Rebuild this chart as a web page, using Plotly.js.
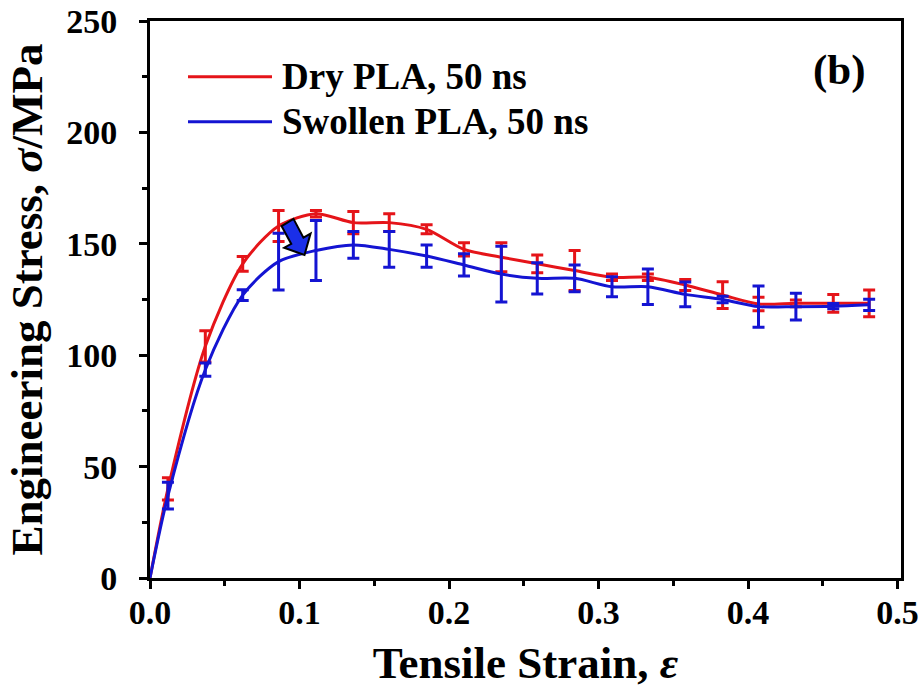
<!DOCTYPE html>
<html>
<head>
<meta charset="utf-8">
<script src="https://cdn.plot.ly/plotly-3.0.1.min.js"></script>
<style>html,body{margin:0;padding:0;background:#fff;}#chart{width:924px;height:700px;}</style>
</head>
<body>
<div id="chart"></div>
<script>
// ---- data ----
const strain = [0.012, 0.037, 0.062, 0.086, 0.111, 0.136, 0.160, 0.185, 0.210, 0.235,
                0.259, 0.284, 0.309, 0.333, 0.358, 0.383, 0.407, 0.432, 0.457, 0.481];
const dryStress = [40, 104, 141, 158, 163.5, 159.5, 159.5, 156.5, 147.5, 144,
                   141, 138, 135, 135, 131.5, 127, 123, 123.3, 123.3, 123.3];
const dryErr = [5, 7, 3.3, 7, 1.5, 5, 4, 2, 3, 6.5, 4, 9, 1.5, 1.5, 2.5, 6, 3, 1.5, 4, 6];
const swollenStress = [37, 93.5, 127, 142, 147, 149.5, 147.5, 144.5, 140.5, 136.4,
                       134.5, 134.5, 130.7, 130.7, 127.3, 125, 121.8, 121.8, 122, 122.6];
const swollenErr = [6, 3, 2.4, 12.7, 13.5, 6, 8, 5, 5, 12.5, 7, 6, 4.5, 8, 5.5, 1.5, 9.3, 6, 1.2, 2.5];
const originX = 0, originY = 0;
const seriesNames = ['Dry PLA, 50 ns', 'Swollen PLA, 50 ns'];
const xTicks = [0, 0.1, 0.2, 0.3, 0.4, 0.5];
const xTickText = ['0.0', '0.1', '0.2', '0.3', '0.4', '0.5'];
const yTicks = [0, 50, 100, 150, 200, 250];

const RED = '#e51419', BLUE = '#1414d2';
const FONT = 'Liberation Serif, Times New Roman, serif';

function lineTrace(xs, ys, color, name) {
  return {x: [originX].concat(xs), y: [originY].concat(ys), mode: 'lines', name: name,
          line: {color: color, width: 3, shape: 'spline', smoothing: 0.8},
          showlegend: false, hoverinfo: 'skip'};
}
function errTrace(xs, ys, es, color, name) {
  return {x: xs, y: ys, mode: 'markers', name: name, marker: {size: 1, opacity: 0, color: color},
          error_y: {type: 'data', array: es, visible: true, color: color, thickness: 3, width: 6},
          showlegend: false, hoverinfo: 'skip'};
}

const traces = [
  errTrace(strain, dryStress, dryErr, RED, seriesNames[0]),
  lineTrace(strain, dryStress, RED, seriesNames[0]),
  errTrace(strain, swollenStress, swollenErr, BLUE, seriesNames[1]),
  lineTrace(strain, swollenStress, BLUE, seriesNames[1])
];

// plot area in pixels (for decorations)
const L = 150, R = 901, T = 21, B = 578;
function px(xp, yp) { return [(xp - L) / (R - L), (B - yp) / (B - T)]; }
function pathFromPx(pts) {
  return pts.map((p, i) => { const q = px(p[0], p[1]); return (i ? 'L' : 'M') + q[0].toFixed(4) + ',' + q[1].toFixed(4); }).join(' ') + ' Z';
}
// block arrow (decoration)
const arrowPts = [[293.5,218.9],[303.4,237.6],[310.6,233.6],[304.5,255],[284.2,247.7],[291.3,243.9],[281.6,226.1]];

const legRed = px(188, 76.7), legBlue = px(188, 121.7), legEnd = px(272, 0), legText = px(280, 0);

const layout = {
  width: 924, height: 700,
  margin: {l: L, r: 924 - R, t: T, b: 700 - B},
  paper_bgcolor: '#fff', plot_bgcolor: '#fff',
  font: {family: FONT, size: 33, color: '#000', weight: 700},
  showlegend: false,
  xaxis: {
    range: [0, 0.5023], tickvals: xTicks, ticktext: xTickText,
    showline: true, mirror: true, linecolor: '#000', linewidth: 3,
    ticks: 'outside', ticklen: 8, tickwidth: 3, tickcolor: '#000',
    minor: {ticks: 'outside', ticklen: 5, tickwidth: 3, tickcolor: '#000', dtick: 0.05, showgrid: false},
    showgrid: false, zeroline: false, ticklabelstandoff: -6,
    tickfont: {family: FONT, size: 34, weight: 700},
    title: {text: 'Tensile Strain, <i>ε</i>', font: {family: FONT, size: 45, weight: 700}, standoff: 17}
  },
  yaxis: {
    range: [0, 250], tickvals: yTicks,
    showline: true, mirror: true, linecolor: '#000', linewidth: 3,
    ticks: 'outside', ticklen: 8, tickwidth: 3, tickcolor: '#000',
    minor: {ticks: 'outside', ticklen: 5, tickwidth: 3, tickcolor: '#000', dtick: 25, showgrid: false},
    showgrid: false, zeroline: false, ticklabelstandoff: 15,
    tickfont: {family: FONT, size: 34, weight: 700},
    title: {text: 'Engineering Stress, <i>σ</i>/MPa', font: {family: FONT, size: 45, weight: 700}, standoff: 10}
  },
  shapes: [
    {type: 'path', xref: 'paper', yref: 'paper', path: pathFromPx(arrowPts),
     fillcolor: '#1a2fe8', line: {color: '#000', width: 2}},
    {type: 'line', xref: 'paper', yref: 'paper', x0: legRed[0], x1: legEnd[0], y0: legRed[1], y1: legRed[1],
     line: {color: RED, width: 3}},
    {type: 'line', xref: 'paper', yref: 'paper', x0: legBlue[0], x1: legEnd[0], y0: legBlue[1], y1: legBlue[1],
     line: {color: BLUE, width: 3}}
  ],
  annotations: [
    {xref: 'paper', yref: 'paper', x: legText[0], y: legRed[1], xanchor: 'left', yanchor: 'middle',
     text: seriesNames[0], showarrow: false, font: {family: FONT, size: 37, weight: 700}},
    {xref: 'paper', yref: 'paper', x: legText[0], y: legBlue[1], xanchor: 'left', yanchor: 'middle',
     text: seriesNames[1], showarrow: false, font: {family: FONT, size: 37, weight: 700}},
    {xref: 'paper', yref: 'paper', x: px(839, 0)[0], y: px(0, 70)[1], xanchor: 'center', yanchor: 'middle',
     text: '(b)', showarrow: false, font: {family: FONT, size: 43, weight: 700}}
  ]
};

Plotly.newPlot('chart', traces, layout, {staticPlot: true, displayModeBar: false});
</script>
</body>
</html>
